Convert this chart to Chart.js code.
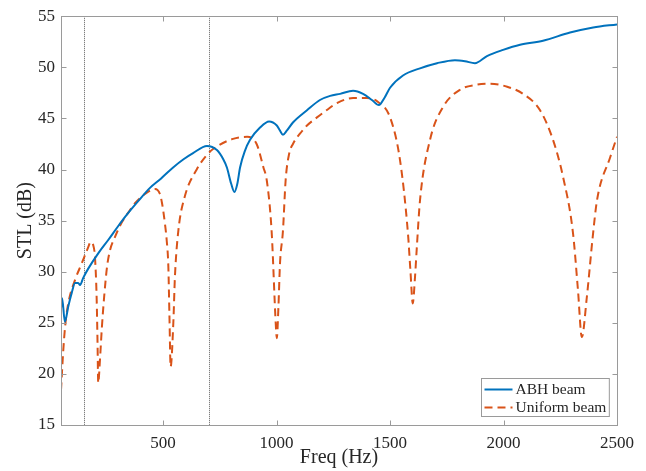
<!DOCTYPE html>
<html>
<head>
<meta charset="utf-8">
<title>STL</title>
<script src="https://cdn.jsdelivr.net/npm/chart.js@4.4.1/dist/chart.umd.min.js"></script>
<style>
    html, body { margin: 0; padding: 0; background: #fff; }
    #wrap { width: 646px; height: 471px; }
</style>
</head>
<body>
<div id="wrap"><canvas id="stlChart" width="646" height="471"></canvas></div>
<script>
// Sound transmission loss, ABH beam vs uniform beam
const abhFreq = [50, 55, 67, 82, 97, 112, 126, 134, 148, 170, 214, 258, 300, 341, 390, 442, 490, 544, 590, 632,
    693, 737, 765, 781, 800, 814, 827, 839, 860, 883, 927, 967, 1001, 1015, 1028, 1045, 1072, 1134, 1191, 1236,
    1280, 1337, 1381, 1420, 1451, 1475, 1500, 1557, 1632, 1707, 1786, 1830, 1874, 1927, 1998, 2073, 2174, 2293, 2395, 2500];
const abhStl = [26.4, 27.4, 25.1, 26.6, 27.9, 28.9, 28.9, 28.7, 29.4, 30.3, 31.8, 33.1, 34.4, 35.6, 36.9, 38.2, 39.1, 40.2, 41.0, 41.6,
    42.3, 41.9, 41.0, 40.2, 38.6, 37.8, 38.6, 40.2, 41.8, 42.9, 44.1, 44.7, 44.3, 43.8, 43.4, 43.8, 44.6, 45.8, 46.8, 47.2,
    47.4, 47.7, 47.4, 46.8, 46.3, 47.0, 48.0, 49.2, 49.9, 50.4, 50.7, 50.6, 50.4, 51.1, 51.7, 52.2, 52.6, 53.4, 53.9, 54.2];

const uniFreq = [50, 60, 68, 82, 112, 141, 170, 180, 192, 200, 207, 211, 214, 222, 230, 240, 253, 266, 288, 310,
    347, 376, 420, 464, 486, 496, 508, 516, 523, 528, 533, 545, 552, 567, 596, 648, 692, 720, 808, 870,
    912, 942, 957, 978, 997, 1001, 1008, 1015, 1028, 1040, 1055, 1072, 1103, 1134, 1178, 1220, 1266, 1337, 1398, 1447,
    1500, 1544, 1579, 1590, 1600, 1610, 1618, 1632, 1676, 1733, 1808, 1883, 1941, 2016, 2086, 2161, 2218, 2262, 2306, 2328,
    2345, 2367, 2393, 2412, 2470, 2500];
const uniStl = [18.4, 22.3, 24.6, 26.9, 29.2, 30.8, 32.4, 32.9, 32.6, 31.3, 27.5, 23.0, 19.1, 21.5, 24.5, 27.5, 30.5, 32.1, 33.4, 34.5,
    35.8, 36.7, 37.6, 38.1, 37.6, 36.6, 34.7, 33.0, 30.5, 25.5, 20.7, 25.0, 29.5, 34.0, 37.4, 40.0, 41.4, 42.0, 43.0, 43.2,
    42.5, 40.2, 38.9, 34.0, 24.6, 23.5, 26.5, 30.8, 34.0, 39.0, 41.5, 42.5, 43.5, 44.3, 45.1, 45.8, 46.5, 47.0, 47.0, 46.6,
    45.1, 40.9, 33.7, 30.0, 26.9, 29.5, 32.4, 37.0, 42.9, 46.1, 47.8, 48.3, 48.4, 48.1, 47.4, 45.8, 42.9, 39.3, 33.8, 28.2,
    23.6, 27.5, 33.4, 37.0, 41.2, 43.2];

const markerFreq = [150, 700];
const xTicks = [500, 1000, 1500, 2000, 2500];
const yTicks = [15, 20, 25, 30, 35, 40, 45, 50, 55];

const seriesNames = ['ABH beam', 'Uniform beam'];
const colors = ['#0072BD', '#D95319'];
const axisColor = '#9a9a9a';
const textColor = '#262626';

Chart.defaults.font.family = '"Liberation Serif", "Times New Roman", serif';
Chart.defaults.color = textColor;

function toPoints(xs, ys) {
    return xs.map((x, i) => ({ x: x, y: ys[i] }));
}

// box, inward ticks, dotted markers and legend
const framePlugin = {
    id: 'frame',
    beforeDatasetsDraw(chart) {
        const { ctx, chartArea: a, scales } = chart;
        ctx.save();
        ctx.strokeStyle = 'rgba(40,40,40,0.75)';
        ctx.lineWidth = 1;
        ctx.setLineDash([1, 1]);
        markerFreq.forEach(f => {
            const px = Math.round(scales.x.getPixelForValue(f)) + 0.5;
            ctx.beginPath();
            ctx.moveTo(px, a.top);
            ctx.lineTo(px, a.bottom);
            ctx.stroke();
        });
        ctx.restore();
    },
    afterDraw(chart) {
        const { ctx, chartArea: a, scales } = chart;
        const t = 5;
        ctx.save();
        ctx.strokeStyle = axisColor;
        ctx.lineWidth = 1;
        const L = Math.round(a.left) + 0.5, R = Math.round(a.right) + 0.5;
        const T = Math.round(a.top) + 0.5, B = Math.round(a.bottom) + 0.5;
        ctx.strokeRect(L, T, R - L, B - T);
        ctx.beginPath();
        xTicks.forEach(v => {
            const px = Math.round(scales.x.getPixelForValue(v)) + 0.5;
            ctx.moveTo(px, B); ctx.lineTo(px, B - t);
            ctx.moveTo(px, T); ctx.lineTo(px, T + t);
        });
        yTicks.forEach(v => {
            const py = Math.round(scales.y.getPixelForValue(v)) + 0.5;
            ctx.moveTo(L, py); ctx.lineTo(L + t, py);
            ctx.moveTo(R, py); ctx.lineTo(R - t, py);
        });
        ctx.stroke();

        // legend, bottom right inside the axes
        ctx.font = '15.5px "Liberation Serif", serif';
        const textW = Math.max(...seriesNames.map(s => ctx.measureText(s).width));
        const lineLen = 28, rowH = 18;
        const w = 3 + lineLen + 3 + textW + 3;
        const h = rowH * seriesNames.length + 2;
        const x0 = Math.round(a.right - 8 - w) + 0.5;
        const y0 = Math.round(a.bottom - 9 - h) + 0.5;
        ctx.fillStyle = '#fff';
        ctx.fillRect(x0, y0, w, h);
        ctx.strokeStyle = axisColor;
        ctx.strokeRect(x0, y0, w, h);
        chart.data.datasets.forEach((ds, i) => {
            const yy = y0 + 1 + rowH * i + rowH / 2 + 1;
            ctx.strokeStyle = ds.borderColor;
            ctx.lineWidth = ds.borderWidth;
            ctx.setLineDash(ds.borderDash || []);
            ctx.beginPath();
            ctx.moveTo(x0 + 3, yy);
            ctx.lineTo(x0 + 3 + lineLen, yy);
            ctx.stroke();
            ctx.setLineDash([]);
            ctx.fillStyle = textColor;
            ctx.textBaseline = 'middle';
            ctx.textAlign = 'left';
            ctx.fillText(ds.label, x0 + 6 + lineLen, yy);
        });
        ctx.restore();
    }
};

new Chart(document.getElementById('stlChart'), {
    type: 'line',
    data: {
        datasets: [
            {
                label: seriesNames[0],
                data: toPoints(abhFreq, abhStl),
                borderColor: colors[0],
                borderWidth: 2,
                pointRadius: 0,
                cubicInterpolationMode: 'monotone',
                fill: false
            },
            {
                label: seriesNames[1],
                data: toPoints(uniFreq, uniStl),
                borderColor: colors[1],
                borderWidth: 2,
                borderDash: [8, 5],
                pointRadius: 0,
                cubicInterpolationMode: 'monotone',
                fill: false
            }
        ]
    },
    options: {
        responsive: false,
        animation: false,
        layout: { padding: { top: 16, right: 29, left: 0, bottom: 0 } },
        plugins: {
            legend: { display: false },
            tooltip: { enabled: false }
        },
        scales: {
            x: {
                type: 'linear',
                min: 50,
                max: 2500,
                grid: { display: false, drawTicks: false },
                border: { display: false },
                afterBuildTicks: s => { s.ticks = xTicks.map(v => ({ value: v })); },
                afterFit: s => { s.height = 46; },
                ticks: { font: { size: 17 }, padding: 8, maxRotation: 0, callback: v => String(v) },
                title: { display: true, text: 'Freq (Hz)', font: { size: 20 }, padding: { top: 0, bottom: 1 } }
            },
            y: {
                min: 15,
                max: 55,
                grid: { display: false, drawTicks: false },
                border: { display: false },
                afterBuildTicks: s => { s.ticks = yTicks.map(v => ({ value: v })); },
                afterFit: s => { s.width = 61; },
                ticks: { font: { size: 17 }, padding: 6, callback: v => String(v) },
                title: { display: true, text: 'STL (dB)', font: { size: 20 }, padding: { top: 14, bottom: 0 } }
            }
        }
    },
    plugins: [framePlugin]
});
</script>
</body>
</html>
